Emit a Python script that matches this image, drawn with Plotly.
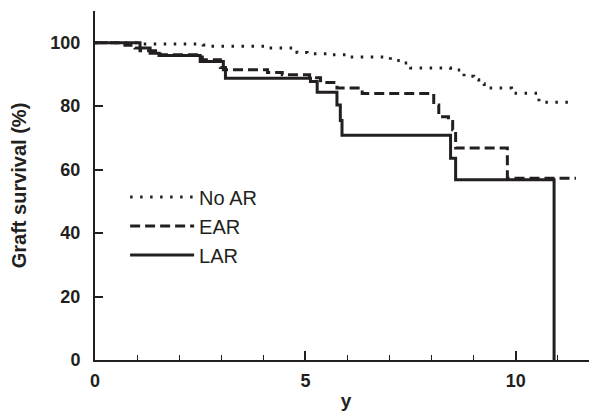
import plotly.graph_objects as go

# Kaplan-Meier style step data (years, graft survival %)
noar_t = [0, 1.1, 2.57, 2.7, 4.05, 4.8, 5.04, 5.6, 6.0, 7.02, 7.3, 7.5, 8.45, 8.77, 9.0, 9.12, 9.25, 9.9, 10.55, 11.38]
noar_v = [100, 99.6, 99.3, 98.9, 98.3, 96.9, 96.5, 96.2, 95.5, 94.4, 93.6, 92.0, 91.4, 89.4, 88.3, 87.1, 85.7, 84.1, 81.2, 81.2]

ear_t = [0, 0.71, 0.95, 1.07, 1.55, 2.55, 2.98, 3.1, 4.1, 4.45, 5.1, 5.36, 5.75, 6.35, 8.05, 8.17, 8.4, 8.5, 8.57, 9.8, 11.43]
ear_v = [100, 99.2, 98.3, 97.5, 96.2, 94.6, 92.2, 91.5, 90.6, 89.9, 89.0, 87.5, 85.7, 84.0, 80.4, 76.7, 75.2, 72.6, 66.8, 57.3, 57.3]

lar_t = [0, 1.07, 1.31, 1.52, 2.5, 3.05, 3.1, 5.12, 5.28, 5.75, 5.83, 5.87, 8.45, 8.57, 10.91]
lar_v = [100, 98.3, 96.7, 96.0, 94.1, 91.5, 88.8, 87.8, 84.4, 80.4, 75.5, 70.8, 63.6, 56.8, 0]

series_names = ["No AR", "EAR", "LAR"]

x_ticks = [0, 5, 10]
y_ticks = [0, 20, 40, 60, 80, 100]

ink = "#231f20"
FONT = "Liberation Sans, Arial, sans-serif"

fig = go.Figure()
fig.add_trace(go.Scatter(x=noar_t, y=noar_v, mode="lines", name=series_names[0],
                         line=dict(shape="hv", color=ink, width=3, dash="2.5px,7.5px")))
fig.add_trace(go.Scatter(x=ear_t, y=ear_v, mode="lines", name=series_names[1],
                         line=dict(shape="hv", color=ink, width=3, dash="10px,5px")))
fig.add_trace(go.Scatter(x=lar_t, y=lar_v, mode="lines", name=series_names[2],
                         line=dict(shape="hv", color=ink, width=3)))

# page body adds an 8px offset; margins compensate for it
fig.update_layout(
    width=597, height=418,
    margin=dict(l=87, r=8, t=3, b=66),
    paper_bgcolor="white", plot_bgcolor="white",
    font=dict(family=FONT, color=ink),
    showlegend=True,
    legend=dict(x=0.06, y=0.384, xanchor="left", yanchor="middle",
                bgcolor="rgba(0,0,0,0)", font=dict(size=20, color=ink),
                itemwidth=64),
)

fig.update_xaxes(
    range=[0, 11.93], tickvals=x_ticks, ticktext=[str(v) for v in x_ticks],
    ticks="inside", ticklen=9, tickwidth=1.5, tickcolor=ink,
    minor=dict(dtick=1, tick0=0, ticks="inside", ticklen=5, tickwidth=1.2, tickcolor=ink),
    showline=True, linecolor=ink, linewidth=2, showgrid=False, zeroline=False,
    tickfont=dict(size=18, family=FONT, weight="bold"),
    ticklabelstandoff=3, automargin=False,
    title=dict(text="<b>y</b>", font=dict(size=19), standoff=4),
)
fig.update_yaxes(
    range=[0, 110], tickvals=y_ticks, ticktext=[str(v) for v in y_ticks],
    ticks="inside", ticklen=8, tickwidth=1.5, tickcolor=ink,
    showline=True, linecolor=ink, linewidth=2, showgrid=False, zeroline=False,
    tickfont=dict(size=18, family=FONT, weight="bold"),
    ticklabelstandoff=9, automargin=False,
    title=dict(text="<b>Graft survival (%)</b>", font=dict(size=20), standoff=18),
)

fig.write_html("out.html")
